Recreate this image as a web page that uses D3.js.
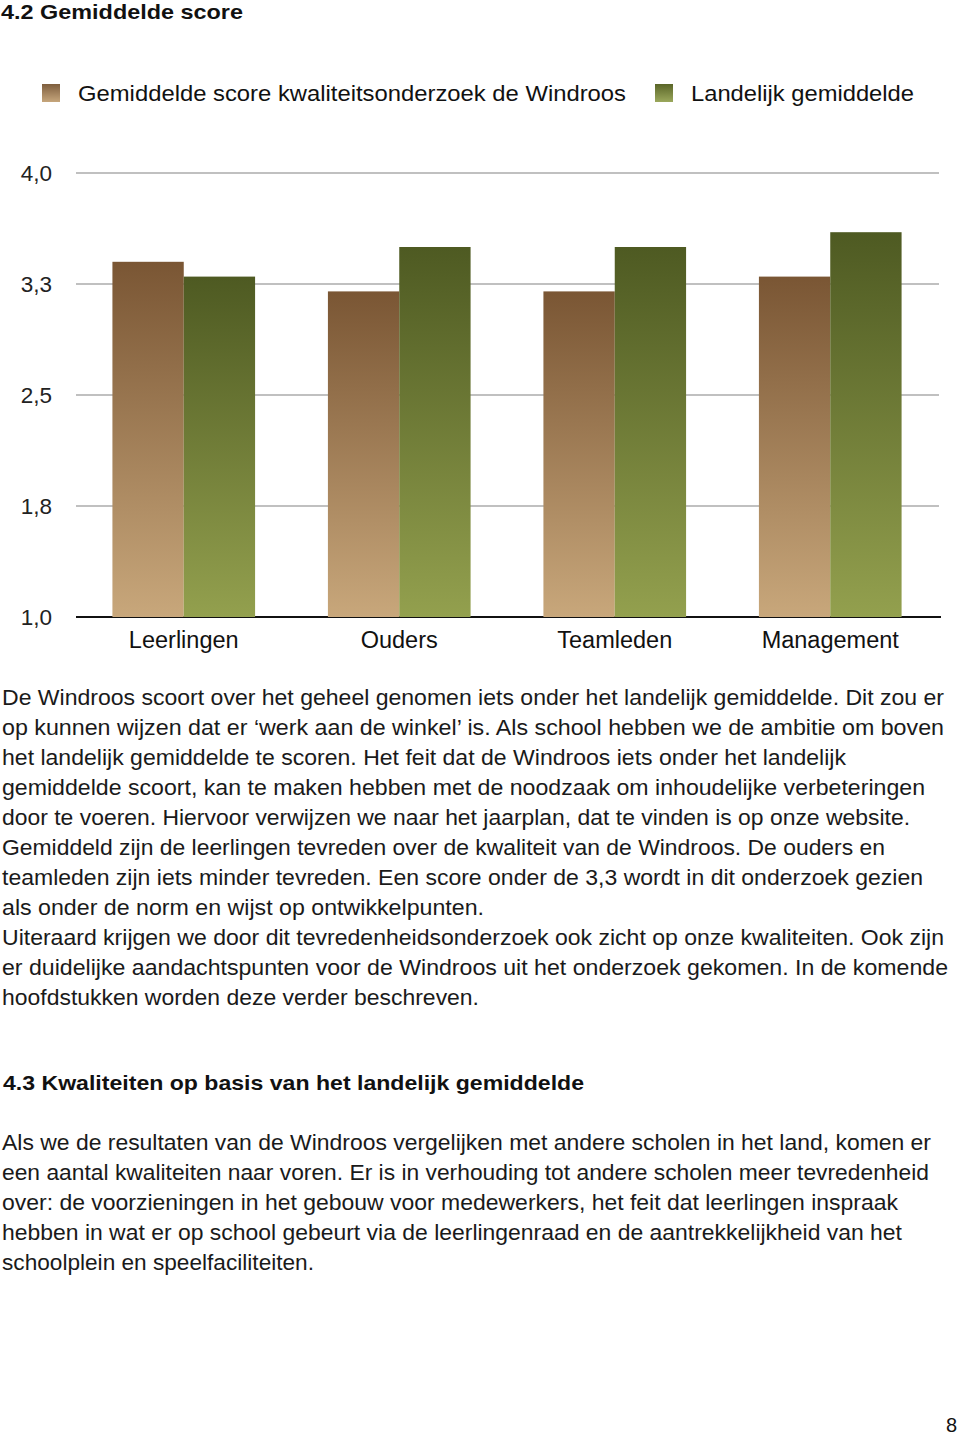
<!DOCTYPE html>
<html><head><meta charset="utf-8">
<script src="https://cdn.jsdelivr.net/npm/d3@7"></script>
<style>html,body{margin:0;padding:0;background:#fff;} svg{display:block;}</style>
</head><body>
<script>
const categories = ["Leerlingen", "Ouders", "Teamleden", "Management"];
const seriesNames = ["Gemiddelde score kwaliteitsonderzoek de Windroos", "Landelijk gemiddelde"];
const windroos = [3.4, 3.2, 3.2, 3.3];
const landelijk = [3.3, 3.5, 3.5, 3.6];
const tickValues = [1.0, 1.75, 2.5, 3.25, 4.0];
const tickLabels = ["1,0", "1,8", "2,5", "3,3", "4,0"];

const para1 = [
 ["De Windroos scoort over het geheel genomen iets onder het landelijk gemiddelde. Dit zou er", 944],
 ["op kunnen wijzen dat er \u2018werk aan de winkel\u2019 is. Als school hebben we de ambitie om boven", 944],
 ["het landelijk gemiddelde te scoren. Het feit dat de Windroos iets onder het landelijk", 846],
 ["gemiddelde scoort, kan te maken hebben met de noodzaak om inhoudelijke verbeteringen", 925],
 ["door te voeren. Hiervoor verwijzen we naar het jaarplan, dat te vinden is op onze website.", 910],
 ["Gemiddeld zijn de leerlingen tevreden over de kwaliteit van de Windroos. De ouders en", 885],
 ["teamleden zijn iets minder tevreden. Een score onder de 3,3 wordt in dit onderzoek gezien", 923],
 ["als onder de norm en wijst op ontwikkelpunten.", 484],
 ["Uiteraard krijgen we door dit tevredenheidsonderzoek ook zicht op onze kwaliteiten. Ook zijn", 944],
 ["er duidelijke aandachtspunten voor de Windroos uit het onderzoek gekomen. In de komende", 948],
 ["hoofdstukken worden deze verder beschreven.", 479]
];
const para2 = [
 ["Als we de resultaten van de Windroos vergelijken met andere scholen in het land, komen er", 931],
 ["een aantal kwaliteiten naar voren. Er is in verhouding tot andere scholen meer tevredenheid", 929],
 ["over: de voorzieningen in het gebouw voor medewerkers, het feit dat leerlingen inspraak", 898],
 ["hebben in wat er op school gebeurt via de leerlingenraad en de aantrekkelijkheid van het", 902],
 ["schoolplein en speelfaciliteiten.", 314]
];

const W = 960, H = 1436;
const font = "'Liberation Sans', Arial, Helvetica, sans-serif";
const svg = d3.select("body").append("svg").attr("width", W).attr("height", H)
  .style("font-family", font);

const defs = svg.append("defs");
function grad(id, c0, c1) {
  const g = defs.append("linearGradient").attr("id", id).attr("x1", 0).attr("y1", 0).attr("x2", 0).attr("y2", 1);
  g.append("stop").attr("offset", "0%").attr("stop-color", c0);
  g.append("stop").attr("offset", "100%").attr("stop-color", c1);
}
grad("gBrown", "#7a5634", "#c8a77b");
grad("gGreen", "#4e5a22", "#93a04e");
grad("lBrown", "#7e5e3e", "#c6a67c");
grad("lGreen", "#5a6528", "#9ba85c");

// Title
svg.append("text").attr("x", 1).attr("y", 19).attr("font-size", 21).attr("font-weight", "bold")
  .attr("fill", "#111").attr("textLength", 242).attr("lengthAdjust", "spacingAndGlyphs")
  .text("4.2 Gemiddelde score");

// Legend
const legend = [
  {name: seriesNames[0], fill: "url(#lBrown)", x: 42, tx: 78, tl: 548},
  {name: seriesNames[1], fill: "url(#lGreen)", x: 655, tx: 691, tl: 223}
];
legend.forEach(l => {
  svg.append("rect").attr("x", l.x).attr("y", 84).attr("width", 18).attr("height", 18).attr("fill", l.fill);
  svg.append("text").attr("x", l.tx).attr("y", 101).attr("font-size", 22).attr("fill", "#111")
    .attr("textLength", l.tl).attr("lengthAdjust", "spacingAndGlyphs").text(l.name);
});

// Scales
const x0 = d3.scaleBand().domain(categories).range([76, 938]).paddingInner(0.338).paddingOuter(0.169);
const x1 = d3.scaleBand().domain([0, 1]).range([0, x0.bandwidth()]);
const y = d3.scaleLinear().domain([1, 4]).range([617, 173]);

// Gridlines
svg.append("g").selectAll("line").data(tickValues.slice(1)).join("line")
  .attr("x1", 76).attr("x2", 939).attr("y1", d => y(d)).attr("y2", d => y(d))
  .attr("stroke", "#ababab").attr("stroke-width", 1.6);

// Y tick labels
svg.append("g").selectAll("text").data(tickValues).join("text")
  .attr("x", 52).attr("y", d => y(d) + 8).attr("text-anchor", "end")
  .attr("font-size", 22.5).attr("fill", "#222").text((d, i) => tickLabels[i]);

// Baseline
svg.append("line").attr("x1", 76).attr("x2", 941).attr("y1", y(1)).attr("y2", y(1))
  .attr("stroke", "#111").attr("stroke-width", 2);

// Bars
const data = categories.map((c, i) => ({c, vals: [windroos[i], landelijk[i]]}));
const fills = ["url(#gBrown)", "url(#gGreen)"];
svg.append("g").selectAll("g").data(data).join("g")
  .attr("transform", d => `translate(${x0(d.c)},0)`)
  .selectAll("rect").data(d => d.vals.map((v, k) => ({v, k}))).join("rect")
  .attr("x", d => x1(d.k)).attr("width", x1.bandwidth())
  .attr("y", d => y(d.v)).attr("height", d => y(1) - y(d.v))
  .attr("fill", d => fills[d.k]);

// Category labels
svg.append("g").selectAll("text").data(categories).join("text")
  .attr("x", d => x0(d) + x0.bandwidth() / 2).attr("y", 648).attr("text-anchor", "middle")
  .attr("font-size", 23.5).attr("fill", "#111").text(d => d);

// Body text
function para(lines, startY) {
  lines.forEach((l, i) => {
    svg.append("text").attr("x", 2).attr("y", startY + i * 30).attr("font-size", 21.5).attr("fill", "#1a1a1a")
      .attr("textLength", l[1] - 2).attr("lengthAdjust", "spacingAndGlyphs").text(l[0]);
  });
}
para(para1, 705);

svg.append("text").attr("x", 3).attr("y", 1090).attr("font-size", 21).attr("font-weight", "bold")
  .attr("fill", "#111").attr("textLength", 581).attr("lengthAdjust", "spacingAndGlyphs")
  .text("4.3 Kwaliteiten op basis van het landelijk gemiddelde");

para(para2, 1150);

svg.append("text").attr("x", 957).attr("y", 1432).attr("text-anchor", "end").attr("font-size", 20)
  .attr("fill", "#111").text("8");
</script>
</body></html>
